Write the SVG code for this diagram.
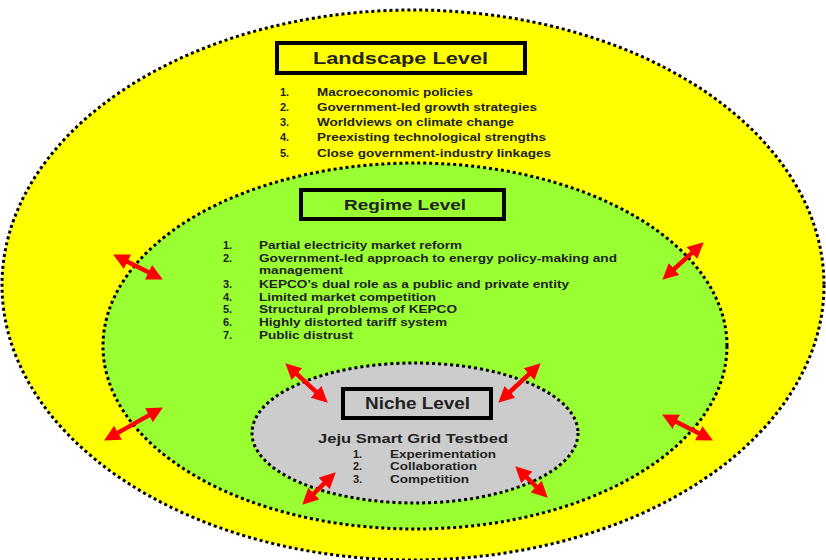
<svg xmlns="http://www.w3.org/2000/svg" width="826" height="560" viewBox="0 0 826 560">
<style>
.dot{stroke:#000;stroke-width:3;stroke-dasharray:3 3}
.box{stroke:#000;stroke-width:4}
text{font-family:"Liberation Sans",Arial,sans-serif;font-weight:bold;fill:#222}
.h{font-size:17px}
.l{font-size:11px}
.arr{stroke:#ff0000;stroke-width:4.5;fill:none;marker-start:url(#ah);marker-end:url(#ah)}
</style>
<defs>
<marker id="ah" markerUnits="userSpaceOnUse" markerWidth="16" markerHeight="16" viewBox="0 0 16 16" refX="9" refY="8" orient="auto-start-reverse">
<path d="M0,0 L16,8 L0,16 Z" fill="#ff0000"/>
</marker>
</defs>
<rect width="826" height="560" fill="#fff"/>
<path d="M122,472 Q150,500 197,517" fill="none" stroke="#888" stroke-width="1"/>
<g id="landscape">
<ellipse cx="413" cy="285" rx="411" ry="275" fill="#ffff00" class="dot"/>
<rect x="277" y="43" width="248" height="30" fill="#ffff00" class="box"/>
<text class="h" x="313" y="64" textLength="175" lengthAdjust="spacingAndGlyphs">Landscape Level</text>
<g class="l">
<text x="280" y="96">1.</text><text x="317" y="96" textLength="156" lengthAdjust="spacingAndGlyphs">Macroeconomic policies</text>
<text x="280" y="111">2.</text><text x="317" y="111" textLength="220" lengthAdjust="spacingAndGlyphs">Government-led growth strategies</text>
<text x="280" y="126">3.</text><text x="317" y="126" textLength="197" lengthAdjust="spacingAndGlyphs">Worldviews on climate change</text>
<text x="280" y="141">4.</text><text x="317" y="141" textLength="229" lengthAdjust="spacingAndGlyphs">Preexisting technological strengths</text>
<text x="280" y="157">5.</text><text x="317" y="157" textLength="234" lengthAdjust="spacingAndGlyphs">Close government-industry linkages</text>
</g>
</g>
<g id="regime">
<ellipse cx="415" cy="346" rx="312" ry="183" fill="#99ff33" class="dot"/>
<rect x="301" y="190" width="203" height="29" fill="#99ff33" class="box"/>
<text class="h" x="344" y="210" textLength="122" lengthAdjust="spacingAndGlyphs" style="font-size:15px">Regime Level</text>
<g class="l">
<text x="223" y="249">1.</text><text x="259" y="249" textLength="203" lengthAdjust="spacingAndGlyphs">Partial electricity market reform</text>
<text x="223" y="262">2.</text><text x="259" y="262" textLength="358" lengthAdjust="spacingAndGlyphs">Government-led approach to energy policy-making and</text>
<text x="259" y="274" textLength="84" lengthAdjust="spacingAndGlyphs">management</text>
<text x="223" y="288">3.</text><text x="259" y="288" textLength="310" lengthAdjust="spacingAndGlyphs">KEPCO’s dual role as a public and private entity</text>
<text x="223" y="301">4.</text><text x="259" y="301" textLength="177" lengthAdjust="spacingAndGlyphs">Limited market competition</text>
<text x="223" y="313">5.</text><text x="259" y="313" textLength="198" lengthAdjust="spacingAndGlyphs">Structural problems of KEPCO</text>
<text x="223" y="326">6.</text><text x="259" y="326" textLength="188" lengthAdjust="spacingAndGlyphs">Highly distorted tariff system</text>
<text x="223" y="339">7.</text><text x="259" y="339" textLength="94" lengthAdjust="spacingAndGlyphs">Public distrust</text>
</g>
</g>
<g id="niche">
<ellipse cx="415" cy="433" rx="163" ry="70" fill="#cccccc" class="dot"/>
<rect x="343" y="389" width="148" height="29" fill="#cccccc" class="box"/>
<text class="h" x="365" y="409" textLength="105" lengthAdjust="spacingAndGlyphs" style="font-size:16px">Niche Level</text>
<text x="318" y="443" textLength="190" lengthAdjust="spacingAndGlyphs" style="font-size:13.5px">Jeju Smart Grid Testbed</text>
<g class="l" style="fill:#1e1e3a">
<text x="353" y="458">1.</text><text x="390" y="458" textLength="106" lengthAdjust="spacingAndGlyphs">Experimentation</text>
<text x="353" y="470">2.</text><text x="390" y="470" textLength="87" lengthAdjust="spacingAndGlyphs">Collaboration</text>
<text x="353" y="483">3.</text><text x="390" y="483" textLength="79" lengthAdjust="spacingAndGlyphs">Competition</text>
</g>
</g>
<g id="connectors">
<path class="arr" d="M119.4,257.7 L156.6,276.3"/>
<path class="arr" d="M698.5,247 L667.5,275"/>
<path class="arr" d="M156.8,410.9 L110.2,437.1"/>
<path class="arr" d="M668.3,417.7 L706.7,437.3"/>
<path class="arr" d="M290.4,368.1 L322.6,397.9"/>
<path class="arr" d="M535.6,368.1 L503.4,397.9"/>
<path class="arr" d="M330.7,477.2 L307.3,499.8"/>
<path class="arr" d="M520.3,471.2 L542.7,492.8"/>
</g>
</svg>
